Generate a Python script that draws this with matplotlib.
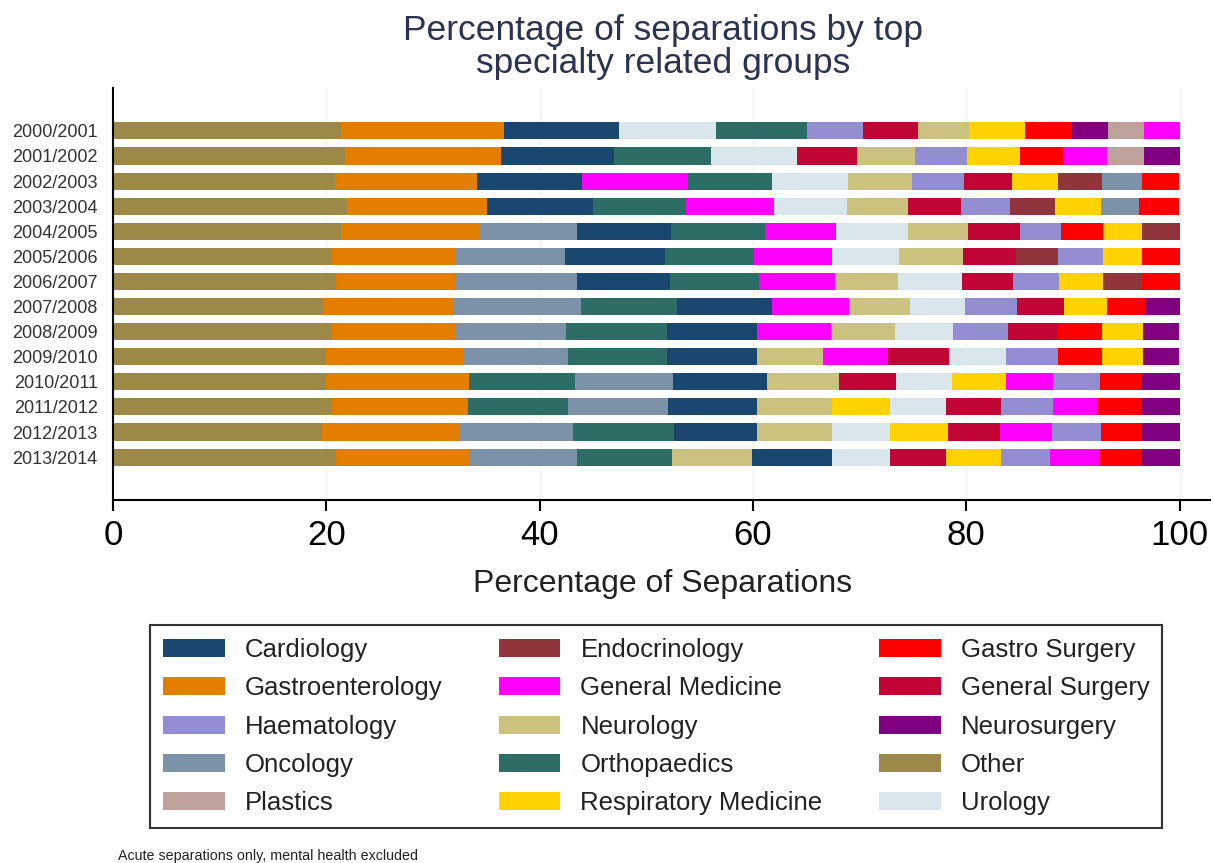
import matplotlib
matplotlib.use("Agg")
import matplotlib.pyplot as plt
from matplotlib.patches import Patch

plt.rcParams['font.family'] = ['Liberation Sans', 'DejaVu Sans']

# 연도 (위에서 아래 순서)
years = ["2000/2001", "2001/2002", "2002/2003", "2003/2004", "2004/2005",
         "2005/2006", "2006/2007", "2007/2008", "2008/2009", "2009/2010",
         "2010/2011", "2011/2012", "2012/2013", "2013/2014"]

# 진료과 약어 -> 이름
names = {
    "C": "Cardiology", "E": "Endocrinology", "GX": "Gastro Surgery",
    "GE": "Gastroenterology", "GM": "General Medicine", "GS": "General Surgery",
    "H": "Haematology", "N": "Neurology", "NS": "Neurosurgery",
    "ON": "Oncology", "OR": "Orthopaedics", "O": "Other",
    "P": "Plastics", "R": "Respiratory Medicine", "U": "Urology",
}

colors = {
    "C": "#1a476f", "E": "#90353b", "GX": "#ff0000", "GE": "#e37e00",
    "GM": "#ff00ff", "GS": "#c10534", "H": "#938dd2", "N": "#cac27e",
    "NS": "#800080", "ON": "#7b92a8", "OR": "#2d6d66", "O": "#9c8847",
    "P": "#bfa19c", "R": "#ffd200", "U": "#d9e6eb",
}

# 각 연도별 누적 순서 (왼쪽부터)
orders = [
    ["O", "GE", "C", "U", "OR", "H", "GS", "N", "R", "GX", "NS", "P", "GM"],
    ["O", "GE", "C", "OR", "U", "GS", "N", "H", "R", "GX", "GM", "P", "NS"],
    ["O", "GE", "C", "GM", "OR", "U", "N", "H", "GS", "R", "E", "ON", "GX"],
    ["O", "GE", "C", "OR", "GM", "U", "N", "GS", "H", "E", "R", "ON", "GX"],
    ["O", "GE", "ON", "C", "OR", "GM", "U", "N", "GS", "H", "GX", "R", "E"],
    ["O", "GE", "ON", "C", "OR", "GM", "U", "N", "GS", "E", "H", "R", "GX"],
    ["O", "GE", "ON", "C", "OR", "GM", "N", "U", "GS", "H", "R", "E", "GX"],
    ["O", "GE", "ON", "OR", "C", "GM", "N", "U", "H", "GS", "R", "GX", "NS"],
    ["O", "GE", "ON", "OR", "C", "GM", "N", "U", "H", "GS", "GX", "R", "NS"],
    ["O", "GE", "ON", "OR", "C", "N", "GM", "GS", "U", "H", "GX", "R", "NS"],
    ["O", "GE", "OR", "ON", "C", "N", "GS", "U", "R", "GM", "H", "GX", "NS"],
    ["O", "GE", "OR", "ON", "C", "N", "R", "U", "GS", "H", "GM", "GX", "NS"],
    ["O", "GE", "ON", "OR", "C", "N", "U", "R", "GS", "GM", "H", "GX", "NS"],
    ["O", "GE", "ON", "OR", "N", "C", "U", "GS", "R", "H", "GM", "GX", "NS"],
]

# 각 연도별 비율 (%) - orders 와 같은 순서
shares = [
    [21.4, 15.3, 10.7, 9.1, 8.6, 5.2, 5.2, 4.8, 5.2, 4.4, 3.4, 3.4, 3.3],
    [21.8, 14.6, 10.6, 9.1, 8.0, 5.7, 5.4, 4.9, 4.9, 4.1, 4.1, 3.5, 3.3],
    [20.8, 13.3, 9.9, 9.9, 7.9, 7.1, 6.0, 4.9, 4.5, 4.3, 4.1, 3.8, 3.5],
    [21.9, 13.2, 9.9, 8.7, 8.3, 6.8, 5.7, 5.0, 4.6, 4.2, 4.3, 3.6, 3.8],
    [21.4, 12.9, 9.2, 8.8, 8.8, 6.7, 6.7, 5.7, 4.8, 3.9, 3.9, 3.7, 3.5],
    [20.5, 11.7, 10.2, 9.4, 8.3, 7.3, 6.3, 6.0, 5.0, 3.9, 4.2, 3.7, 3.5],
    [20.9, 11.3, 11.3, 8.7, 8.4, 7.1, 5.9, 6.0, 4.8, 4.3, 4.1, 3.7, 3.5],
    [19.7, 12.3, 11.9, 9.0, 8.9, 7.2, 5.7, 5.2, 4.9, 4.4, 4.0, 3.6, 3.2],
    [20.5, 11.7, 10.3, 9.4, 8.5, 6.9, 6.0, 5.5, 5.1, 4.7, 4.1, 3.9, 3.4],
    [20.0, 12.8, 9.9, 9.2, 8.5, 6.2, 6.1, 5.7, 5.3, 4.9, 4.1, 3.9, 3.4],
    [20.0, 13.4, 9.9, 9.2, 8.8, 6.8, 5.3, 5.3, 5.0, 4.4, 4.4, 4.0, 3.5],
    [20.5, 12.8, 9.4, 9.3, 8.4, 7.0, 5.5, 5.2, 5.2, 4.8, 4.2, 4.2, 3.5],
    [19.6, 12.9, 10.6, 9.5, 7.8, 7.0, 5.5, 5.4, 4.9, 4.8, 4.6, 3.9, 3.5],
    [20.9, 12.6, 10.0, 8.9, 7.5, 7.5, 5.5, 5.2, 5.2, 4.6, 4.6, 4.0, 3.5],
]

# 범례 순서 (열 단위)
legend_keys = ["C", "GE", "H", "ON", "P",
               "E", "GM", "N", "OR", "R",
               "GX", "GS", "NS", "O", "U"]

W, H = 1213, 863
fig = plt.figure(figsize=(W / 100, H / 100), dpi=100)
ax = fig.add_axes([113 / W, 1 - 500 / H, (1210 - 113) / W, (500 - 88) / H])

for i, (order, vals) in enumerate(zip(orders, shares)):
    left = 0
    for key, v in zip(order, vals):
        ax.barh(i, v, left=left, height=0.68, color=colors[key], linewidth=0, zorder=2)
        left += v

ax.set_xlim(0, (1210 - 113) / 10.665)
ax.set_ylim(len(years) - 1 + 1.71, -1.71)
ax.set_xticks([0, 20, 40, 60, 80, 100])
ax.set_yticks(range(len(years)))
ax.set_yticklabels(years, fontsize=13, color="#333333")
ax.tick_params(axis="y", length=0, pad=11)
ax.tick_params(axis="x", length=8, width=1.5, pad=6, labelsize=25, colors="black")
for xv in [20, 40, 60, 80, 100]:
    ax.axvline(xv, color="#eef2f2", lw=1, zorder=1)

for s in ["top", "right"]:
    ax.spines[s].set_visible(False)
for s in ["left", "bottom"]:
    ax.spines[s].set_linewidth(1.5)

fig.text(663 / W, 1 - 47 / H, "Percentage of separations by top\nspecialty related groups",
         ha="center", va="center", fontsize=25.5, color="#2a3350", linespacing=0.97)
fig.text(663 / W, 1 - 584 / H, "Percentage of Separations", ha="center", va="center",
         fontsize=23, color="#222222")

handles = [Patch(facecolor=colors[k], edgecolor="none", label=names[k]) for k in legend_keys]
leg = fig.legend(handles=handles, ncol=3, loc="upper left",
                 bbox_to_anchor=(150 / W, 1 - 625 / H), borderaxespad=0, fontsize=18.5,
                 frameon=True, fancybox=False, edgecolor="black",
                 handlelength=2.4, handleheight=0.7, handletextpad=0.78,
                 columnspacing=2.2, labelspacing=0.56, borderpad=0.5)
leg.get_frame().set_linewidth(1.5)
for t in leg.get_texts():
    t.set_color("#222222")

fig.text(118 / W, 1 - 856 / H, "Acute separations only, mental health excluded",
         ha="left", va="center", fontsize=10.3, color="#222222")

fig.savefig("out.png", dpi=100)
